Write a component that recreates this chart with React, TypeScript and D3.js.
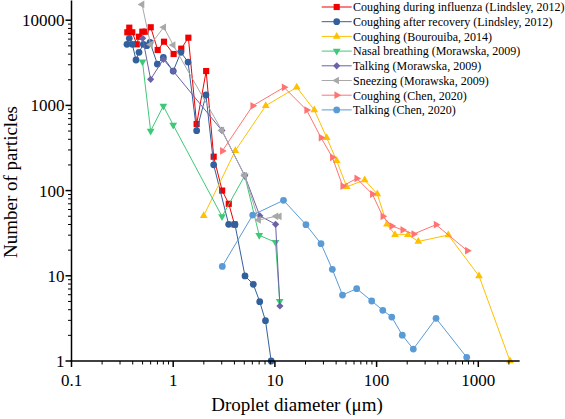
import React, { useEffect, useRef } from "react";
import * as d3 from "d3";

// ---------- data ----------
const fluX = [0.354, 0.37, 0.396, 0.438, 0.461, 0.497, 0.537, 0.601, 0.704, 0.812, 1.01, 1.2, 1.41, 1.7, 2.11, 2.5, 3.03, 3.52, 4.01];
const fluY = [7210, 8170, 7210, 5210, 6400, 7330, 7330, 8260, 4470, 5590, 4010, 4630, 6230, 605, 2530, 250, 100, 70, 40];

const recX = [0.351, 0.37, 0.396, 0.431, 0.461, 0.508, 0.55, 0.592, 0.698, 0.8, 1.0, 1.19, 1.4, 1.7, 2.1, 2.5, 3.51, 4.05, 5.08, 6.13, 7.09, 8.08, 9.19];
const recY = [5210, 6130, 5210, 3410, 4200, 5210, 5020, 5500, 3060, 3670, 2530, 4200, 3230, 505, 1325, 201, 40.2, 40, 9.95, 7.95, 4.97, 2.97, 1];

const bouX = [1.995, 4.08, 8.12, 16.4, 24.4, 32.3, 40.5, 50.8, 76.4, 101.6, 126.5, 151.7, 203.6, 257, 507, 1016, 2050];
const bouY = [50.7, 294, 992, 1630, 883, 418, 224, 111, 133, 91.2, 40.2, 30.4, 30.4, 25.3, 30.1, 9.95, 1];

const nasalX = [0.499, 0.6, 0.8, 1.0, 3.02, 5.05, 7.01, 10.14, 11.15];
const nasalY = [3260, 501, 984, 589, 49.7, 149.6, 29.9, 24.7, 5.02];

const talkMX = [0.501, 0.6, 0.8, 1.0, 3.01, 5.05, 7.1, 10.16, 11.2];
const talkMY = [6130, 2025, 3475, 2530, 508, 149.6, 50.6, 40.2, 4.42];

const sneezeX = [0.494, 0.599, 0.808, 1.0, 3.01, 5.05, 6.93, 10.25, 11.05];
const sneezeY = [15290, 5185, 8260, 5115, 508, 149.6, 45.2, 49.9, 49.9];

const chenCoughX = [3.04, 6.05, 12.3, 20.5, 28.4, 36.7, 46.4, 63.7, 90.7, 115, 141, 180.6, 231.6, 384, 779];
const chenCoughY = [292, 989, 1630, 883, 418, 246, 113, 139, 91.2, 49.9, 38.4, 34.5, 30.9, 39.8, 19.7];

const chenTalkX = [3.04, 6.05, 12.15, 20.2, 28.4, 36.7, 46.2, 63.7, 89.5, 115, 141, 178.9, 229.6, 384, 769];
const chenTalkY = [12.9, 51.7, 76.9, 39.8, 23.8, 11.9, 5.95, 7.06, 5.06, 3.94, 3.28, 2.01, 1.38, 3.17, 1.105];

const seriesNames = [
  "Coughing during influenza (Lindsley, 2012)",
  "Coughing after recovery (Lindsley, 2012)",
  "Coughing (Bourouiba, 2014)",
  "Nasal breathing (Morawska, 2009)",
  "Talking (Morawska, 2009)",
  "Sneezing (Morawska, 2009)",
  "Coughing (Chen, 2020)",
  "Talking (Chen, 2020)",
];

const xTickValues = [0.1, 1, 10, 100, 1000];
const xTickLabels = ["0.1", "1", "10", "100", "1000"];
const yTickValues = [1, 10, 100, 1000, 10000];
const yTickLabels = ["1", "10", "100", "1000", "10000"];

const xTitle = "Droplet diameter (\u03bcm)";
const yTitle = "Number of particles";

// ---------- styles ----------
const colors = ["#f00000", "#32609c", "#ffc000", "#3fc977", "#6a62a6", "#a8a8a8", "#ff7373", "#5b9bd5"];
const markers = ["square", "circle", "triUp", "triDown", "diamond", "triLeft", "triRight", "circle"];
const FONT = "'Liberation Serif', 'Times New Roman', serif";

function symbolPath(kind: string): { d: string; rot: number } {
  switch (kind) {
    case "square":
      return { d: d3.symbol(d3.symbolSquare, 38)()!, rot: 0 };
    case "circle":
      return { d: d3.symbol(d3.symbolCircle, 36)()!, rot: 0 };
    case "diamond":
      return { d: d3.symbol(d3.symbolSquare, 26)()!, rot: 45 };
    case "triUp":
      return { d: d3.symbol(d3.symbolTriangle, 26)()!, rot: 0 };
    case "triDown":
      return { d: d3.symbol(d3.symbolTriangle, 26)()!, rot: 180 };
    case "triLeft":
      return { d: d3.symbol(d3.symbolTriangle, 26)()!, rot: -90 };
    case "triRight":
      return { d: d3.symbol(d3.symbolTriangle, 26)()!, rot: 90 };
  }
  return { d: d3.symbol(d3.symbolCircle, 36)()!, rot: 0 };
}

export default function App() {
  const ref = useRef<SVGSVGElement>(null);

  useEffect(() => {
    document.body.style.margin = "0";
    const svg = d3.select(ref.current);
    svg.selectAll("*").remove();

    const x0 = 71.5;
    const dec = 101.7;
    const y0 = 361;
    const ydec = 85.2;
    const xMax = 2550;
    const yMax = 17000;

    const x = d3.scaleLog().domain([0.1, xMax]).range([x0, x0 + Math.log10(xMax / 0.1) * dec]);
    const y = d3.scaleLog().domain([1, yMax]).range([y0, y0 - Math.log10(yMax) * ydec]);

    const series = [
      [fluX, fluY],
      [recX, recY],
      [bouX, bouY],
      [nasalX, nasalY],
      [talkMX, talkMY],
      [sneezeX, sneezeY],
      [chenCoughX, chenCoughY],
      [chenTalkX, chenTalkY],
    ];

    const line = d3
      .line<[number, number]>()
      .x((d) => x(d[0]))
      .y((d) => y(d[1]));

    const gData = svg.append("g");
    series.forEach(([xs, ys], i) => {
      const pts: [number, number][] = xs.map((v, k) => [v, ys[k]]);
      const g = gData.append("g");
      g.append("path")
        .attr("d", line(pts)!)
        .attr("fill", "none")
        .attr("stroke", colors[i])
        .attr("stroke-width", 1);
      const sym = symbolPath(markers[i]);
      g.selectAll("path.m")
        .data(pts)
        .enter()
        .append("path")
        .attr("class", "m")
        .attr("d", sym.d)
        .attr("transform", (d) => `translate(${x(d[0])},${y(d[1])}) rotate(${sym.rot})`)
        .attr("fill", colors[i]);
    });

    // axes
    const ax = svg.append("g");
    const xEnd = x(xMax);
    ax.append("line").attr("x1", x0 - 1).attr("x2", xEnd).attr("y1", y0).attr("y2", y0).attr("stroke", "#000").attr("stroke-width", 1.5);
    ax.append("line").attr("x1", x0).attr("x2", x0).attr("y1", y0).attr("y2", y(yMax)).attr("stroke", "#000").attr("stroke-width", 1.5);

    // x ticks
    const xMinor: number[] = [];
    for (let p = -1; p <= 3; p++) for (let m = 2; m <= 9; m++) {
      const v = m * Math.pow(10, p);
      if (v <= xMax) xMinor.push(v);
    }
    xMinor.forEach((v) => {
      ax.append("line").attr("x1", x(v)).attr("x2", x(v)).attr("y1", y0).attr("y2", y0 + 3.5).attr("stroke", "#000").attr("stroke-width", 1);
    });
    xTickValues.forEach((v, i) => {
      ax.append("line").attr("x1", x(v)).attr("x2", x(v)).attr("y1", y0).attr("y2", y0 + 6).attr("stroke", "#000").attr("stroke-width", 1.5);
      ax.append("text")
        .attr("x", x(v))
        .attr("y", y0 + 25)
        .attr("text-anchor", "middle")
        .attr("font-family", FONT)
        .attr("font-size", 17)
        .text(xTickLabels[i]);
    });

    // y ticks
    const yMinor: number[] = [];
    for (let p = 0; p <= 4; p++) for (let m = 2; m <= 9; m++) {
      const v = m * Math.pow(10, p);
      if (v <= yMax) yMinor.push(v);
    }
    yMinor.forEach((v) => {
      ax.append("line").attr("x1", x0 - 3.5).attr("x2", x0).attr("y1", y(v)).attr("y2", y(v)).attr("stroke", "#000").attr("stroke-width", 1);
    });
    yTickValues.forEach((v, i) => {
      ax.append("line").attr("x1", x0 - 6).attr("x2", x0).attr("y1", y(v)).attr("y2", y(v)).attr("stroke", "#000").attr("stroke-width", 1.5);
      ax.append("text")
        .attr("x", x0 - 7)
        .attr("y", y(v) + 6)
        .attr("text-anchor", "end")
        .attr("font-family", FONT)
        .attr("font-size", 17)
        .text(yTickLabels[i]);
    });

    // titles
    svg.append("text")
      .attr("x", 297)
      .attr("y", 411)
      .attr("text-anchor", "middle")
      .attr("font-family", FONT)
      .attr("font-size", 19)
      .text(xTitle);
    svg.append("text")
      .attr("transform", "translate(16.5,182) rotate(-90)")
      .attr("text-anchor", "middle")
      .attr("font-family", FONT)
      .attr("font-size", 19)
      .text(yTitle);

    // legend
    const lg = svg.append("g");
    seriesNames.forEach((name, i) => {
      const ly = 7 + i * 14.7;
      lg.append("line").attr("x1", 321.7).attr("x2", 351.7).attr("y1", ly).attr("y2", ly).attr("stroke", colors[i]).attr("stroke-width", 1);
      const sym = symbolPath(markers[i]);
      lg.append("path").attr("d", sym.d).attr("transform", `translate(336.7,${ly}) rotate(${sym.rot})`).attr("fill", colors[i]);
      lg.append("text")
        .attr("x", 353)
        .attr("y", ly + 4.3)
        .attr("font-family", FONT)
        .attr("font-size", 12)
        .text(name);
    });
  }, []);

  return <svg ref={ref} width={565} height={419} style={{ display: "block" }} />;
}
